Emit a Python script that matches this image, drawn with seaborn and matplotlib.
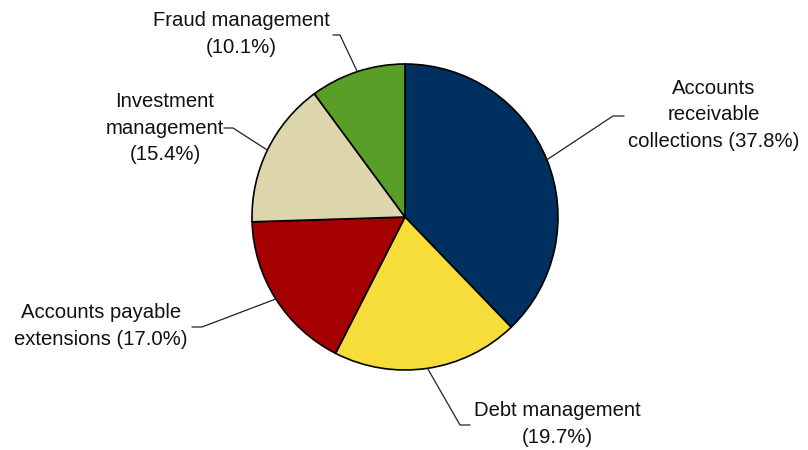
import matplotlib
matplotlib.use("Agg")
import matplotlib.pyplot as plt
import numpy as np
import seaborn as sns

# Share of working-capital activities
categories = ["Accounts receivable collections", "Debt management",
              "Accounts payable extensions", "Investment management",
              "Fraud management"]
shares = [37.8, 19.7, 17.0, 15.4, 10.1]
labels = ["Accounts\nreceivable\ncollections (37.8%)",
          "Debt management\n(19.7%)",
          "Accounts payable\nextensions (17.0%)",
          "Investment\nmanagement\n(15.4%)",
          "Fraud management\n(10.1%)"]
colors = ["#00305F", "#F7DD3A", "#A50000", "#DDD5AB", "#589E27"]

sns.set_theme(style="white")
plt.rcParams["font.family"] = ["Liberation Sans", "DejaVu Sans"]

W, H = 808, 450
fig = plt.figure(figsize=(W / 100, H / 100), dpi=100)
ax = fig.add_axes([0, 0, 1, 1])

cx, cy, r = 405, H - 217, 153
wedges, _ = ax.pie(shares, colors=colors, startangle=90, counterclock=False,
                   center=(cx, cy), radius=r,
                   wedgeprops=dict(edgecolor="black", linewidth=1.2))
ax.set_xlim(0, W)
ax.set_ylim(0, H)
ax.set_aspect("equal")
ax.axis("off")

# label placement: text centre, elbow point, end of horizontal stub (pixels from top-left)
layout = [
    dict(text=(714, 115), elbow=(613, 116), stub=(624, 116)),
    dict(text=(557, 424), elbow=(460, 425), stub=(470, 425)),
    dict(text=(101, 326), elbow=(202, 327), stub=(192, 327)),
    dict(text=(165, 128), elbow=(233, 128), stub=(224, 128)),
    dict(text=(241, 34), elbow=(340, 35), stub=(333, 35)),
]

for w, lab, pos in zip(wedges, labels, layout):
    mid = np.deg2rad((w.theta1 + w.theta2) / 2)
    ex, ey = cx + r * np.cos(mid), cy + r * np.sin(mid)
    bx, by = pos["elbow"][0], H - pos["elbow"][1]
    sx, sy = pos["stub"][0], H - pos["stub"][1]
    ax.plot([ex, bx, sx], [ey, by, sy], color="#222222", lw=0.9,
            solid_joinstyle="miter")
    tx, ty = pos["text"][0], H - pos["text"][1]
    ax.text(tx, ty, lab, ha="center", va="center", fontsize=14.6,
            linespacing=1.5, color="#111111")

fig.savefig("out.png", dpi=100)
